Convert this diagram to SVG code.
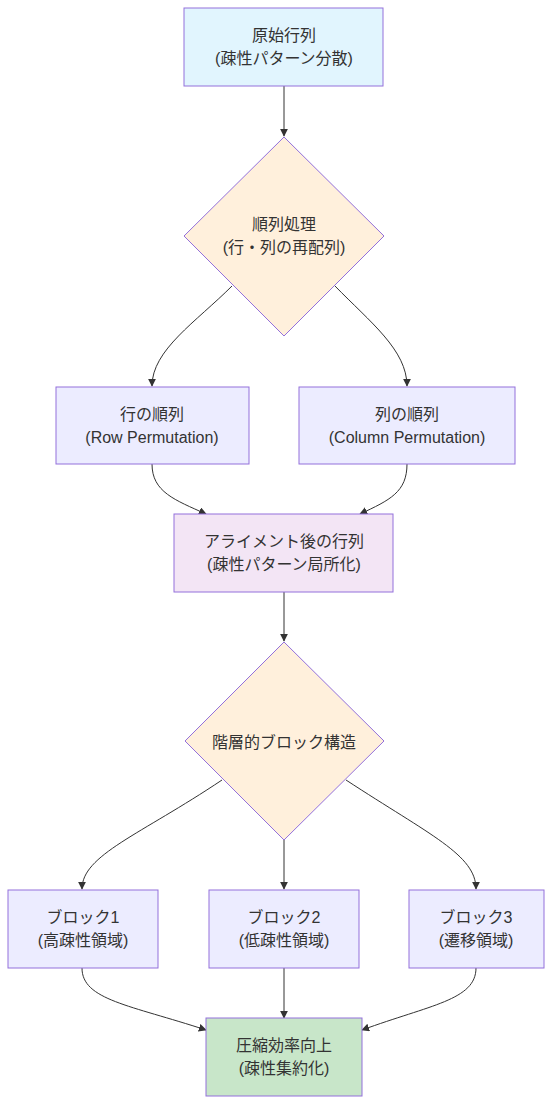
<svg xmlns="http://www.w3.org/2000/svg" width="552" height="1105" viewBox="0 0 552 1105">
<defs>
<marker id="arr" viewBox="0 0 10 10" refX="9" refY="5" markerWidth="8" markerHeight="8" markerUnits="userSpaceOnUse" orient="auto">
<path d="M0,0 L10,5 L0,10 z" fill="#333"/>
</marker>
<style>
.n{stroke:#9370DB;stroke-width:1}
.def{fill:#ECECFF}
.dia{fill:#fff0dc}
.t{font-family:"Liberation Sans","Noto Sans CJK JP",sans-serif;font-size:16px;fill:#333;text-anchor:middle;dominant-baseline:central}
.e{fill:none;stroke:#333;stroke-width:1;marker-end:url(#arr)}
</style>
</defs>
<rect width="552" height="1105" fill="#fff"/>
<g id="edges">
<path class="e" d="M284,86 L284,136"/>
<path class="e" d="M232,286 C196,322 152,350 152,386"/>
<path class="e" d="M335,286 C370,322 407,350 407,386"/>
<path class="e" d="M152,464 C152,492 175,500 206,514"/>
<path class="e" d="M407,464 C407,492 390,500 360,514"/>
<path class="e" d="M284,592 L284,641"/>
<path class="e" d="M222,780 C140,835 82,855 82,889"/>
<path class="e" d="M284,840 L284,889"/>
<path class="e" d="M346,780 C430,835 476,855 476,889"/>
<path class="e" d="M82,968 C82,1000 130,1005 206,1030"/>
<path class="e" d="M284,968 L284,1018"/>
<path class="e" d="M476,968 C476,1000 430,1005 362,1030"/>
</g>
<g id="A">
<rect class="n" x="184" y="8" width="199" height="78" fill="#e1f5fe"/>
<text class="t" x="284" y="35">原始行列</text>
<text class="t" x="284" y="58">(疎性パターン分散)</text>
</g>
<g id="B">
<polygon class="n dia" points="284,137 384,236 284,336 184,236"/>
<text class="t" x="284" y="224">順列処理</text>
<text class="t" x="284" y="247">(行・列の再配列)</text>
</g>
<g id="C">
<rect class="n def" x="56" y="387" width="193" height="77"/>
<text class="t" x="152" y="414">行の順列</text>
<text class="t" x="152" y="437">(Row Permutation)</text>
</g>
<g id="D">
<rect class="n def" x="299" y="387" width="216" height="77"/>
<text class="t" x="407" y="414">列の順列</text>
<text class="t" x="407" y="437">(Column Permutation)</text>
</g>
<g id="E">
<rect class="n" x="174" y="514" width="219" height="78" fill="#f3e5f5"/>
<text class="t" x="284" y="541">アライメント後の行列</text>
<text class="t" x="284" y="564">(疎性パターン局所化)</text>
</g>
<g id="F">
<polygon class="n dia" points="284,642 384,741 284,840 185,741"/>
<text class="t" x="284" y="742">階層的ブロック構造</text>
</g>
<g id="G">
<rect class="n def" x="8" y="890" width="150" height="78"/>
<text class="t" x="83" y="917">ブロック1</text>
<text class="t" x="83" y="940">(高疎性領域)</text>
</g>
<g id="H">
<rect class="n def" x="209" y="890" width="150" height="78"/>
<text class="t" x="284" y="917">ブロック2</text>
<text class="t" x="284" y="940">(低疎性領域)</text>
</g>
<g id="I">
<rect class="n def" x="409" y="890" width="135" height="78"/>
<text class="t" x="476" y="917">ブロック3</text>
<text class="t" x="476" y="940">(遷移領域)</text>
</g>
<g id="J">
<rect class="n" x="206" y="1018" width="156" height="78" fill="#c8e6c9"/>
<text class="t" x="284" y="1045">圧縮効率向上</text>
<text class="t" x="284" y="1068">(疎性集約化)</text>
</g>
</svg>
